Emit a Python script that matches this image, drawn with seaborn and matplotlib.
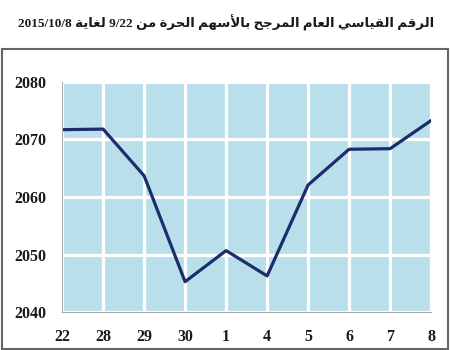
import matplotlib
matplotlib.use("Agg")
import matplotlib.pyplot as plt
import seaborn as sns
import pandas as pd
from matplotlib.patches import Rectangle

# ---- data ----
dates = ["22", "28", "29", "30", "1", "4", "5", "6", "7", "8"]
index_values = [2071.7, 2071.8, 2063.7, 2045.3, 2050.7, 2046.3, 2062.1, 2068.3, 2068.4, 2073.3]
y_ticks = [2040, 2050, 2060, 2070, 2080]
title_words = ["الرقم", "القياسي", "العام", "المرجح", "بالأسهم", "الحرة", "من", "9/22", "لغاية", "2015/10/8"]

# ---- minimal Arabic shaping (presentation forms) ----
FORMS = {  # isolated, final, initial, medial
    "ا": (0xFE8D, 0xFE8E, None, None),
    "أ": (0xFE83, 0xFE84, None, None),
    "ب": (0xFE8F, 0xFE90, 0xFE91, 0xFE92),
    "ة": (0xFE93, 0xFE94, None, None),
    "ت": (0xFE95, 0xFE96, 0xFE97, 0xFE98),
    "ج": (0xFE9D, 0xFE9E, 0xFE9F, 0xFEA0),
    "ح": (0xFEA1, 0xFEA2, 0xFEA3, 0xFEA4),
    "د": (0xFEA9, 0xFEAA, None, None),
    "ر": (0xFEAD, 0xFEAE, None, None),
    "س": (0xFEB1, 0xFEB2, 0xFEB3, 0xFEB4),
    "ع": (0xFEC9, 0xFECA, 0xFECB, 0xFECC),
    "غ": (0xFECD, 0xFECE, 0xFECF, 0xFED0),
    "ق": (0xFED5, 0xFED6, 0xFED7, 0xFED8),
    "ل": (0xFEDD, 0xFEDE, 0xFEDF, 0xFEE0),
    "م": (0xFEE1, 0xFEE2, 0xFEE3, 0xFEE4),
    "ن": (0xFEE5, 0xFEE6, 0xFEE7, 0xFEE8),
    "ه": (0xFEE9, 0xFEEA, 0xFEEB, 0xFEEC),
    "ي": (0xFEF1, 0xFEF2, 0xFEF3, 0xFEF4),
    "لا": (0xFEFB, 0xFEFC, None, None),
    "لأ": (0xFEF7, 0xFEF8, None, None),
}


def shape_word(w):
    if not any(ch in FORMS for ch in w):
        return w
    units = []
    i = 0
    while i < len(w):
        if w[i] == "ل" and i + 1 < len(w) and (w[i:i + 2] in FORMS):
            units.append(w[i:i + 2])
            i += 2
        else:
            units.append(w[i])
            i += 1
    out = []
    for k, u in enumerate(units):
        f = FORMS[u]
        prev_joins = k > 0 and FORMS[units[k - 1]][2] is not None
        can_next = f[2] is not None and k + 1 < len(units)
        if prev_joins and can_next:
            c = f[3]
        elif prev_joins:
            c = f[1]
        elif can_next:
            c = f[2]
        else:
            c = f[0]
        out.append(chr(c))
    return "".join(reversed(out))


title_visual = " ".join(shape_word(w) for w in reversed(title_words))

# ---- plot ----
sns.set_theme(style="white")
plt.rcParams["font.family"] = ["Liberation Serif", "DejaVu Sans"]

df = pd.DataFrame({"date": dates, "value": index_values})

fig = plt.figure(figsize=(4.5, 3.5), dpi=100)
ax = fig.add_axes([0.138, 0.108, 0.82, 0.658])
ax.set_facecolor("#b9dfea")

sns.lineplot(data=df, x="date", y="value", sort=False, ax=ax,
             color="#1c2c6c", linewidth=2.3, zorder=5)

ax.set_xlim(0, len(dates) - 1)
ax.set_ylim(y_ticks[0], y_ticks[-1])
ax.set_yticks(y_ticks)
ax.set_xlabel("")
ax.set_ylabel("")

ax.grid(True, color="white", linewidth=2.3)
ax.set_axisbelow(True)

for s in ["top", "right"]:
    ax.spines[s].set_visible(False)
for s in ["left", "bottom"]:
    ax.spines[s].set_visible(True)
    ax.spines[s].set_color("#b0a8a8")
    ax.spines[s].set_linewidth(0.8)
    ax.spines[s].set_zorder(6)

ax.tick_params(axis="both", which="major", length=4, width=0.8,
               color="#b09090", labelsize=11.5, labelcolor="#1a1a1a")
ax.tick_params(axis="x", pad=8)
ax.tick_params(axis="y", pad=7)
for lab in ax.get_xticklabels() + ax.get_yticklabels():
    lab.set_fontweight("bold")

# frame around chart area
fig.patches.append(Rectangle((0.005, 0.003), 0.99, 0.857, transform=fig.transFigure,
                             fill=False, edgecolor="#666666", linewidth=1.5))

fig.text(0.503, 0.935, title_visual, ha="center", va="center",
         fontsize=9.5, fontweight="bold", color="#1a1a1a",
         family=["Liberation Serif", "DejaVu Sans"])

fig.savefig("out.png", dpi=100)
